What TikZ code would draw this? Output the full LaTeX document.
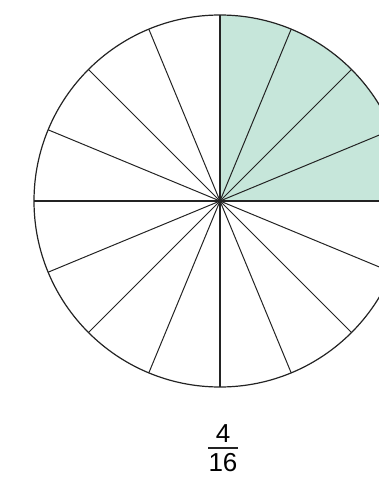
\documentclass[tikz,border=0pt]{standalone}
\usepackage{fontspec}
\setmainfont{Liberation Sans}
\definecolor{sectorfill}{RGB}{198, 230, 218}
\definecolor{spokeline}{RGB}{35, 35, 35}
\usetikzlibrary{positioning, calc}

\begin{document}
\begin{tikzpicture}[x=1pt, y=-1pt,
        spoke/.style={draw=spokeline, line width=1pt},
        axis/.style={draw=spokeline, line width=1.7pt},
        rim/.style={draw=spokeline, line width=1.2pt},
        digit/.style={font=\fontsize{26}{26}\selectfont, inner sep=0pt},
      ]
        \useasboundingbox (0,0) rectangle (379,482);
        \clip (0,0) rectangle (379,482);
        \coordinate (c) at (220,201);

        % shaded quarter
        \fill[sectorfill] (c) -- ++(0,-186) arc[start angle=-90, end angle=0, radius=186] -- cycle;

        \foreach \k in {1,...,15} {
          \pgfmathtruncatemacro{\isaxis}{mod(\k,4)==0 ? 1 : 0}
          \ifnum\isaxis=0
            \draw[spoke] (c) -- ++({\k*22.5}:186);
          \fi
        }
        \draw[axis] ($(c)+(0,-186)$) -- ($(c)+(0,186)$);
        \draw[axis] ($(c)+(-186,0)$) -- ($(c)+(186,0)$);
        \draw[rim] (c) circle[radius=186];

        % fraction
        \coordinate (bar) at (223,448);
        \node[digit, anchor=south] (num) at ($(bar)+(0,-5)$) {4};
        \node[digit, anchor=north] (den) at ($(bar)+(0,5)$) {16};
        \draw[line width=2.2pt, draw=spokeline] ($(bar)+(-15,0)$) -- ($(bar)+(15,0)$);
      \end{tikzpicture}
\end{document}
